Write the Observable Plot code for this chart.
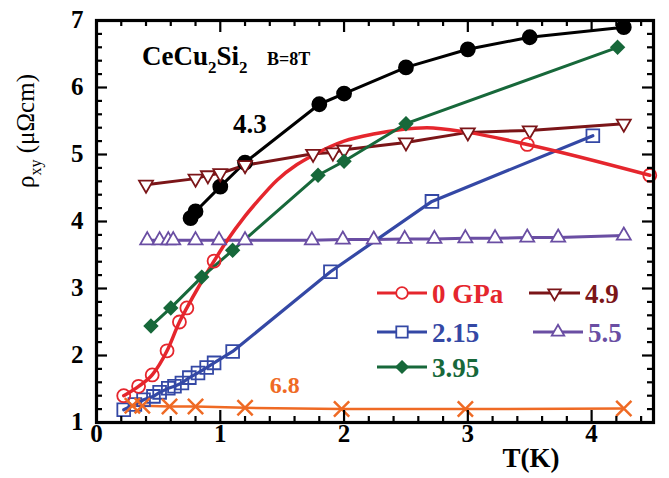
<!DOCTYPE html>
<html><head><meta charset="utf-8">
<script src="https://cdn.jsdelivr.net/npm/d3@7"></script>
<script src="https://cdn.jsdelivr.net/npm/@observablehq/plot@0.6"></script>
<style>
body{margin:0;background:#fff}
#chart{position:relative;width:669px;height:478px}
svg{overflow:visible}
</style>
</head><body><div id="chart"></div>
<script>
// ---------------- data (T in K, rho_xy in µΩcm) ----------------
const T_0 = [0.22,0.34,0.45,0.57,0.67,0.73,0.95,3.48,4.47];
const R_0 = [1.40,1.54,1.71,2.07,2.50,2.71,3.41,5.15,4.69];
// guide curve through the 0 GPa data
const T_0fit = [0.22,0.34,0.45,0.57,0.67,0.73,0.95,1.05,1.2,1.3,1.46,1.62,1.75,2.0,2.25,2.45,2.67,3.0,3.48,4.47];
const R_0fit = [1.40,1.54,1.71,2.07,2.50,2.71,3.41,3.70,4.08,4.30,4.62,4.85,4.99,5.20,5.31,5.37,5.40,5.33,5.15,4.69];

const T_215 = [0.22,0.31,0.38,0.46,0.51,0.58,0.63,0.69,0.75,0.82,0.89,0.95,1.10,1.89,2.71,4.01];
const R_215 = [1.19,1.27,1.34,1.39,1.45,1.51,1.54,1.59,1.67,1.74,1.82,1.89,2.06,3.25,4.30,5.28];

const T_395 = [0.44,0.60,0.85,1.10,1.79,2.00,2.50,4.21];
const R_395 = [2.44,2.71,3.17,3.57,4.69,4.90,5.46,6.60];

const T_43 = [0.76,0.80,1.00,1.20,1.80,2.00,2.50,3.00,3.50,4.26];
const R_43 = [4.05,4.15,4.52,4.88,5.75,5.91,6.30,6.57,6.75,6.90];

const T_49 = [0.40,0.80,0.90,1.00,1.20,1.75,1.91,2.00,2.50,3.00,3.50,4.26];
const R_49 = [4.55,4.64,4.69,4.72,4.84,5.01,5.03,5.07,5.18,5.33,5.36,5.46];

const T_55 = [0.41,0.51,0.58,0.62,0.80,0.99,1.20,1.74,1.99,2.24,2.49,2.73,2.98,3.22,3.48,3.73,4.26];
const R_55 = [3.72,3.72,3.72,3.72,3.72,3.72,3.72,3.72,3.73,3.73,3.74,3.74,3.75,3.75,3.76,3.76,3.79];

const T_68 = [0.29,0.37,0.59,0.80,1.20,1.98,2.98,4.26];
const R_68 = [1.25,1.25,1.24,1.24,1.22,1.20,1.20,1.21];

const xTickLabels = [0,1,2,3,4];
const yTickLabels = [1,2,3,4,5,6,7];
const xMinorTicks = [0.2,0.4,0.6,0.8,1.2,1.4,1.6,1.8,2.2,2.4,2.6,2.8,3.2,3.4,3.6,3.8,4.2,4.4];
const yMinorTicks = [1.2,1.4,1.6,1.8,2.2,2.4,2.6,2.8,3.2,3.4,3.6,3.8,4.2,4.4,4.6,4.8,5.2,5.4,5.6,5.8,6.2,6.4,6.6,6.8];
const xMajorTicks = [1,2,3,4];
const yMajorTicks = [2,3,4,5,6];

// in-plot labels (data coordinates)
const annotations = [
  {T: 1.24, R: 5.45, text: "4.3", color: "#000000", size: 27},
  {T: 1.52, R: 1.55, text: "6.8", color: "#ef6a24", size: 24}
];

// ---------------- styling ----------------
const FONT = "'Liberation Serif','Times New Roman',serif";
const W = 669, H = 478;
const M = {top: 20, right: 16, bottom: 56, left: 96};
const PH = H - M.top - M.bottom;
const PW = W - M.left - M.right;

const triDown = {draw(ctx, size) {
  const y = -Math.sqrt(size / (Math.sqrt(3) * 3));
  ctx.moveTo(0, -y * 2);
  ctx.lineTo(-Math.sqrt(3) * y, y);
  ctx.lineTo(Math.sqrt(3) * y, y);
  ctx.closePath();
}};

const zip = (T, R) => T.map((t, i) => ({T: t, R: R[i]}));

const series = [
  {key: "4.3",  rows: zip(T_43, R_43),   color: "#000000", symbol: "circle",   r: 7.0, fill: "#000000", sw: 3},
  {key: "4.9",  rows: zip(T_49, R_49),   color: "#7b1518", symbol: triDown,    r: 5.2, fill: "white",   sw: 3},
  {key: "5.5",  rows: zip(T_55, R_55),   color: "#6a4ea3", symbol: "triangle", r: 5.2, fill: "white",   sw: 3},
  {key: "2.15", rows: zip(T_215, R_215), color: "#3448a5", symbol: "square",   r: 7.2, fill: "none",    sw: 3.2},
  {key: "0 GPa",rows: zip(T_0, R_0),     color: "#e5262d", symbol: "circle",   r: 6.5, fill: "none",    sw: 3.5, fit: zip(T_0fit, R_0fit)},
  {key: "3.95", rows: zip(T_395, R_395), color: "#17683a", symbol: "diamond2", r: 5.8, fill: "#17683a", sw: 3},
  {key: "6.8",  rows: zip(T_68, R_68),   color: "#ef6a24", symbol: "times",    r: 7.0, fill: "none",    sw: 2.5}
];

const marks = [];
for (const s of series) {
  if (s.fit) {
    marks.push(Plot.line(s.fit, {x: "T", y: "R", stroke: s.color, strokeWidth: s.sw, curve: "monotone-x"}));
  } else {
    marks.push(Plot.line(s.rows, {x: "T", y: "R", stroke: s.color, strokeWidth: s.sw}));
  }
}
for (const s of series) {
  marks.push(Plot.dot(s.rows, {x: "T", y: "R", symbol: s.symbol, r: s.r, stroke: s.color,
    fill: s.fill, strokeWidth: s.symbol === "times" ? 2.5 : 1.8}));
}

// ticks (inward, all four sides)
const tk = {stroke: "black", strokeWidth: 2.2};
marks.push(
  Plot.tickX(xMinorTicks, {x: d => d, insetTop: PH - 6, ...tk}),
  Plot.tickX(xMajorTicks, {x: d => d, insetTop: PH - 12, ...tk}),
  Plot.tickX(xMinorTicks, {x: d => d, insetBottom: PH - 6, ...tk}),
  Plot.tickX(xMajorTicks, {x: d => d, insetBottom: PH - 12, ...tk}),
  Plot.tickY(yMinorTicks, {y: d => d, insetRight: PW - 6, ...tk}),
  Plot.tickY(yMajorTicks, {y: d => d, insetRight: PW - 11, ...tk}),
  Plot.tickY(yMinorTicks, {y: d => d, insetLeft: PW - 6, ...tk}),
  Plot.tickY(yMajorTicks, {y: d => d, insetLeft: PW - 11, ...tk}),
  Plot.frame({stroke: "black", strokeWidth: 3.2}),
  Plot.text(xTickLabels, {x: d => d, text: d => String(d), frameAnchor: "bottom", dy: 19,
    fontSize: 25, fontWeight: "bold", fill: "black"}),
  Plot.text(yTickLabels, {y: d => d, text: d => String(d), frameAnchor: "left", dx: -13, dy: -1,
    textAnchor: "end", fontSize: 25, fontWeight: "bold", fill: "black"}),
  Plot.text(annotations, {x: "T", y: "R", text: "text", fill: "color", fontSize: d => d.size,
    fontWeight: "bold"})
);

const chart = Plot.plot({
  width: W, height: H,
  marginTop: M.top, marginRight: M.right, marginBottom: M.bottom, marginLeft: M.left,
  x: {domain: [0, 4.5], axis: null},
  y: {domain: [1, 7], axis: null},
  style: {fontFamily: FONT, background: "white", overflow: "visible"},
  marks
});
document.getElementById("chart").appendChild(chart);

// ---------------- texts with sub-scripts and legend ----------------
const svg = d3.select(chart);

// y-axis label
const yl = svg.append("text")
  .attr("transform", "translate(34,131) rotate(-90)")
  .attr("text-anchor", "middle")
  .attr("font-family", FONT).attr("font-size", 25).attr("fill", "black");
yl.append("tspan").text("ρ");
yl.append("tspan").attr("font-size", 16).attr("dy", 7).text("xy");
yl.append("tspan").attr("dy", -7).text(" (μΩcm)");

// x-axis label
svg.append("text").attr("x", 531).attr("y", 467).attr("text-anchor", "middle")
  .attr("font-family", FONT).attr("font-size", 27).attr("font-weight", "bold").text("T(K)");

// compound title
const tt = svg.append("text").attr("x", 142).attr("y", 65).attr("text-anchor", "start")
  .attr("font-family", FONT).attr("font-size", 27).attr("font-weight", "bold");
tt.append("tspan").text("CeCu");
tt.append("tspan").attr("font-size", 17).attr("dy", 8).text("2");
tt.append("tspan").attr("dy", -8).text("Si");
tt.append("tspan").attr("font-size", 17).attr("dy", 8).text("2");
svg.append("text").attr("x", 267).attr("y", 65).attr("text-anchor", "start")
  .attr("font-family", FONT).attr("font-size", 18).attr("font-weight", "bold").text("B=8T");

// legend
const symType = s => {
  if (typeof s === "object") return s;
  return {circle: d3.symbolCircle, square: d3.symbolSquare, triangle: d3.symbolTriangle,
          diamond2: d3.symbolDiamond2, times: d3.symbolTimes}[s];
};
const bySeries = Object.fromEntries(series.map(s => [s.key, s]));
const legendLayout = [
  {key: "0 GPa", x0: 377, x1: 427, y: 293},
  {key: "2.15",  x0: 377, x1: 427, y: 332},
  {key: "3.95",  x0: 377, x1: 427, y: 367},
  {key: "4.9",   x0: 529, x1: 580, y: 293},
  {key: "5.5",   x0: 533, x1: 583, y: 332}
];
const lg = svg.append("g");
for (const L of legendLayout) {
  const s = bySeries[L.key];
  lg.append("line").attr("x1", L.x0).attr("x2", L.x1).attr("y1", L.y).attr("y2", L.y)
    .attr("stroke", s.color).attr("stroke-width", 3);
  lg.append("path")
    .attr("transform", `translate(${(L.x0 + L.x1) / 2},${L.y})`)
    .attr("d", d3.symbol(symType(s.symbol), Math.PI * s.r * s.r * 0.8)())
    .attr("fill", s.fill === "none" ? "white" : s.fill).attr("stroke", s.color).attr("stroke-width", 1.8);
  lg.append("text").attr("x", L.x1 + 5).attr("y", L.y + 10).attr("text-anchor", "start")
    .attr("font-family", FONT).attr("font-size", 27).attr("font-weight", "bold")
    .attr("fill", s.color).text(L.key);
}
</script>
</body></html>
